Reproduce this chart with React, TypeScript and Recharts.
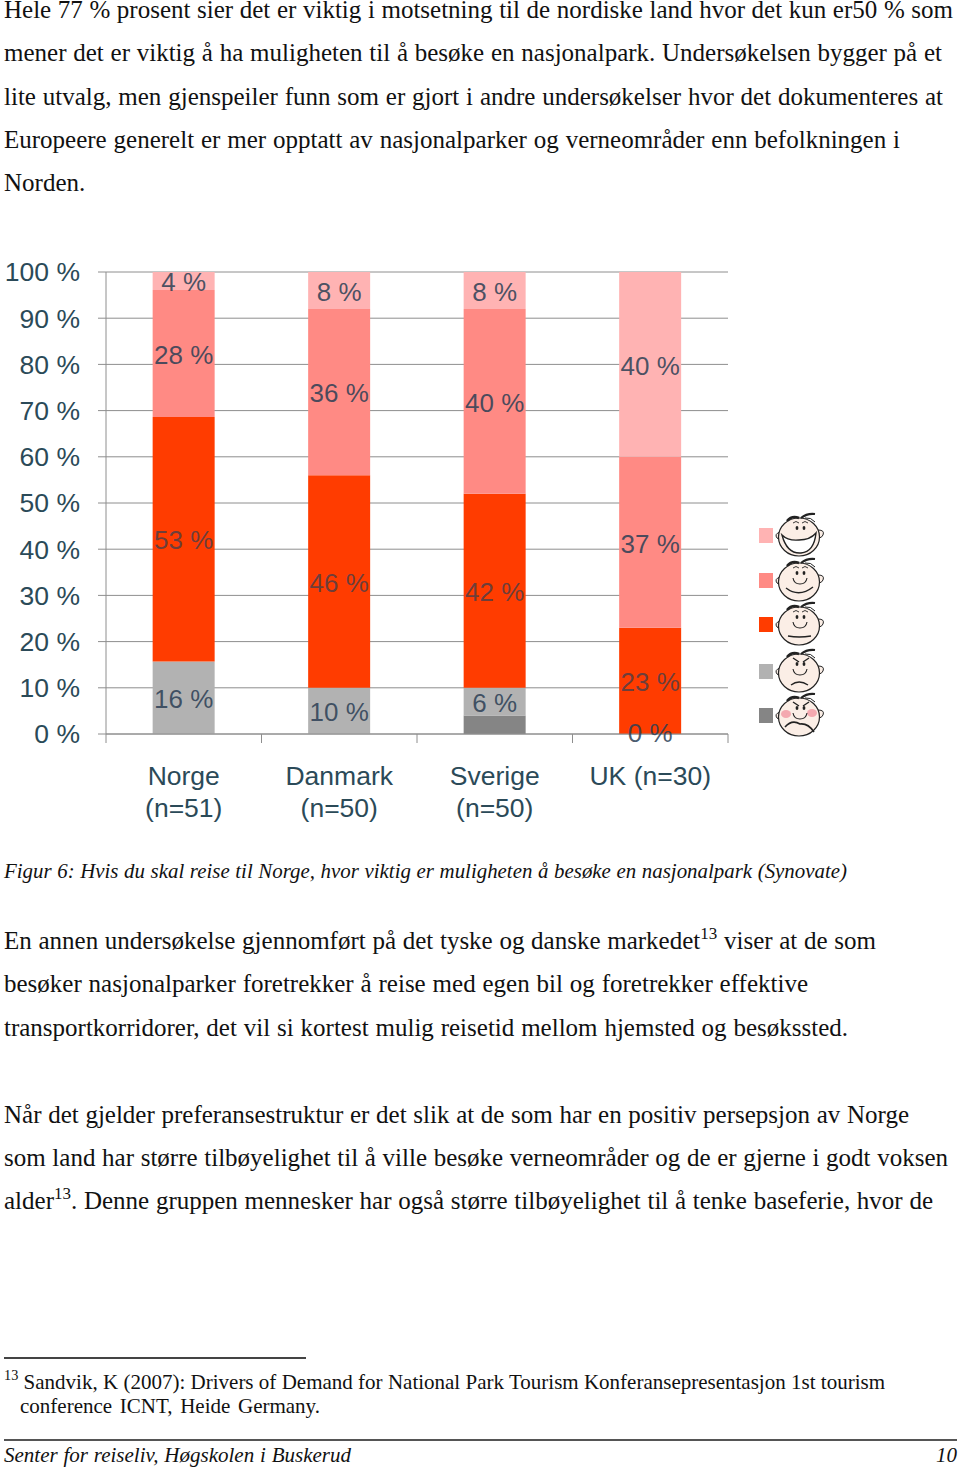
import { BarChart, Bar, XAxis, YAxis, CartesianGrid, Legend, LabelList } from "recharts";

const COUNTRIES = ["Norge\n(n=51)", "Danmark\n(n=50)", "Sverige\n(n=50)", "UK (n=30)"];
const VERY_LOW = [0, 0, 4, 0];
const LOW = [15.7, 10, 6, 0];
const MIDDLE = [52.9, 46, 42, 23];
const HIGH = [27.5, 36, 40, 37];
const VERY_HIGH = [3.9, 8, 8, 40];
const Y_TICKS = [0, 0.1, 0.2, 0.3, 0.4, 0.5, 0.6, 0.7, 0.8, 0.9, 1];

const COLORS = {
  veryLow: "#858585",
  low: "#b2b2b2",
  middle: "#ff3c00",
  high: "#ff8a84",
  veryHigh: "#ffb3b3",
};

const TEXT_COLOR = "#2b4a58";
const LABEL_COLOR = "#2c3f55";
const AXIS_COLOR = "#8e8e8e";
const PLOT_WIDTH = 622;
const BAND = PLOT_WIDTH / COUNTRIES.length;

const data = COUNTRIES.map((country, i) => ({
  country,
  veryLow: VERY_LOW[i],
  low: LOW[i],
  middle: MIDDLE[i],
  high: HIGH[i],
  veryHigh: VERY_HIGH[i],
}));

function CountryTick({ x, y, index, payload }: any) {
  const lines = String(payload.value).split("\n");
  const axisY = y - 8;
  return (
    <g>
      <line x1={x - BAND / 2} x2={x - BAND / 2} y1={axisY} y2={axisY + 9} stroke={AXIS_COLOR} />
      {index === COUNTRIES.length - 1 && (
        <line x1={x + BAND / 2} x2={x + BAND / 2} y1={axisY} y2={axisY + 9} stroke={AXIS_COLOR} />
      )}
      {lines.map((line: string, i: number) => (
        <text key={line} x={x} y={axisY + 51 + i * 32} textAnchor="middle" fontSize={26.5} fill={TEXT_COLOR}>
          {line}
        </text>
      ))}
    </g>
  );
}

// no wrapping here, the bars are only just wide enough for the text
function PercentLabel({ x, y, width, height, value, opacity = 0.85 }: any) {
  return (
    <text
      x={x + width / 2}
      y={y + height / 2 + 1}
      dy="0.355em"
      textAnchor="middle"
      fontSize={26}
      fill={LABEL_COLOR}
      fillOpacity={opacity}
    >
      {`${Math.round(value)} %`}
    </text>
  );
}

// a zero bar has no rectangle to hang a label on, so it sits on the base of the bar above it
function ZeroLabel({ x, y, width, height, value }: any) {
  if (value !== 0) return null;
  return (
    <text x={x + width / 2} y={y + height - 1} dy="0.355em" textAnchor="middle" fontSize={26} fill={LABEL_COLOR} fillOpacity={0.85}>
      0 %
    </text>
  );
}

const MOUTHS: Record<string, React.ReactNode> = {
  veryHigh: (
    <path d="M9 25 Q15 31 26 30 Q37 30 43 23 Q41 42 28 43 Q14 44 9 25Z" fill="#fff" stroke="#222" strokeWidth={1.4} />
  ),
  high: <path d="M13 33 Q26 43 40 32" fill="none" stroke="#222" strokeWidth={1.4} />,
  middle: <path d="M15 37 Q26 39 38 37" fill="none" stroke="#222" strokeWidth={1.4} />,
  low: <path d="M18 39 Q26 33 35 39" fill="none" stroke="#222" strokeWidth={1.4} />,
  veryLow: <path d="M12 37 Q19 29 27 34 Q35 33 41 42" fill="none" stroke="#222" strokeWidth={1.6} />,
};

function Face({ mood }: { mood: string }) {
  const cross = mood === "low" || mood === "veryLow";
  return (
    <svg width={54} height={50} viewBox="0 0 54 50">
      <path d="M7 22 Q1 24 4 28 Q6 30 8 29" fill="#fbeee6" stroke="#222" strokeWidth={1} />
      <path d="M45 20 Q52 20 50 25 Q49 28 45 28" fill="#fbeee6" stroke="#222" strokeWidth={1} />
      <ellipse cx={26} cy={27} rx={20.5} ry={19} fill="#fbeee6" stroke="#222" strokeWidth={1.2} />
      {mood === "veryLow" && (
        <g fill="#f4a9b0">
          <ellipse cx={13} cy={24} rx={5} ry={4} />
          <ellipse cx={39} cy={23} rx={5} ry={4} />
        </g>
      )}
      <path d="M14 11 Q19 5 26 8" fill="none" stroke="#222" strokeWidth={2.6} />
      <path d="M28 8 Q34 3 42 4" fill="none" stroke="#222" strokeWidth={2.2} />
      <path d="M32 8 Q38 7 42 12" fill="none" stroke="#222" strokeWidth={1} />
      {cross ? (
        <path d="M20 12 L26 16 M36 12 L30 16" fill="none" stroke="#222" strokeWidth={1.4} />
      ) : (
        <path d="M20 13 Q23 10 26 13 M29 13 Q32 10 35 13" fill="none" stroke="#222" strokeWidth={0.9} />
      )}
      <ellipse cx={24} cy={18} rx={1.4} ry={2} fill="#222" />
      <ellipse cx={31} cy={18} rx={1.4} ry={2} fill="#222" />
      {mood !== "veryHigh" && <path d="M20 23 Q21 29 27 29 Q33 29 34 23" fill="none" stroke="#222" strokeWidth={1.1} />}
      {MOUTHS[mood]}
    </svg>
  );
}

const LEGEND_ROWS = [535, 580, 624, 671, 715];

function FaceLegend({ payload }: any) {
  const rows = [...(payload ?? [])].reverse();
  return (
    <div style={{ position: "relative", width: 90, height: 240 }}>
      {rows.map((entry: any, i: number) => (
        <div
          key={entry.dataKey}
          style={{ position: "absolute", left: 0, top: LEGEND_ROWS[i] - 25 - 510, display: "flex", alignItems: "center" }}
        >
          <div style={{ width: 14, height: 15, background: entry.color, marginLeft: 9 }} />
          <Face mood={entry.dataKey} />
        </div>
      ))}
    </div>
  );
}

function StackedChart() {
  return (
    <BarChart
      width={960}
      height={590}
      data={data}
      stackOffset="expand"
      barCategoryGap="30%"
      margin={{ top: 22, right: 232, bottom: 0, left: 0 }}
    >
      <CartesianGrid vertical={false} stroke={AXIS_COLOR} />
      <XAxis
        dataKey="country"
        height={106}
        interval={0}
        axisLine={{ stroke: AXIS_COLOR }}
        tickLine={false}
        tick={<CountryTick />}
      />
      <YAxis
        width={106}
        domain={[0, 1]}
        ticks={Y_TICKS}
        interval={0}
        axisLine={{ stroke: AXIS_COLOR }}
        tickLine={{ stroke: AXIS_COLOR }}
        tickSize={8}
        tickMargin={18}
        tick={{ fill: TEXT_COLOR, fontSize: 26.5 }}
        tickFormatter={(v: number) => `${Math.round(v * 100)} %`}
      />
      <Legend
        layout="horizontal"
        verticalAlign="middle"
        itemSorter={null}
        content={<FaceLegend />}
        wrapperStyle={{ left: 750, top: 260, width: 90, height: 240 }}
      />
      <Bar dataKey="veryLow" stackId="a" fill={COLORS.veryLow} isAnimationActive={false} />
      <Bar dataKey="low" stackId="a" fill={COLORS.low} isAnimationActive={false}>
        <LabelList dataKey="low" content={<PercentLabel />} />
      </Bar>
      <Bar dataKey="middle" stackId="a" fill={COLORS.middle} isAnimationActive={false}>
        <LabelList dataKey="middle" content={<PercentLabel opacity={0.7} />} />
        <LabelList dataKey="low" content={<ZeroLabel />} />
      </Bar>
      <Bar dataKey="high" stackId="a" fill={COLORS.high} isAnimationActive={false}>
        <LabelList dataKey="high" content={<PercentLabel />} />
      </Bar>
      <Bar dataKey="veryHigh" stackId="a" fill={COLORS.veryHigh} isAnimationActive={false}>
        <LabelList dataKey="veryHigh" content={<PercentLabel />} />
      </Bar>
    </BarChart>
  );
}

function Line({ y, x = 4, end, size = 25, italic, children }: any) {
  return (
    <div
      style={{
        position: "absolute",
        left: x,
        top: y - 20,
        width: end - x,
        height: 40,
        lineHeight: "40px",
        fontSize: size,
        fontStyle: italic ? "italic" : "normal",
        textAlign: "justify",
        textAlignLast: "justify",
        whiteSpace: "nowrap",
        color: "#111",
      }}
    >
      {children}
    </div>
  );
}

const Sup = ({ children }: any) => (
  <sup style={{ fontSize: "0.68em", lineHeight: 0, verticalAlign: "0.6em" }}>{children}</sup>
);

export default function App() {
  return (
    <div
      style={{
        position: "absolute",
        left: 0,
        top: 0,
        width: 960,
        height: 1467,
        overflow: "hidden",
        background: "#fff",
        fontFamily: "'Liberation Serif', serif",
      }}
    >
      <Line y={10} end={953}>Hele 77 % prosent sier det er viktig i motsetning til de nordiske land hvor det kun er50 % som</Line>
      <Line y={53} end={942}>mener det er viktig å ha muligheten til å besøke en nasjonalpark. Undersøkelsen bygger på et</Line>
      <Line y={97} end={943}>lite utvalg, men gjenspeiler funn som er gjort i andre undersøkelser hvor det dokumenteres at</Line>
      <Line y={140} end={900}>Europeere generelt er mer opptatt av nasjonalparker og verneområder enn befolkningen i</Line>
      <Line y={183} end={86}>Norden.</Line>

      <div style={{ position: "absolute", left: 0, top: 250, fontFamily: "'Liberation Sans', sans-serif" }}>
        <StackedChart />
      </div>

      <Line y={871} end={847} size={20.9} italic>
        Figur 6: Hvis du skal reise til Norge, hvor viktig er muligheten å besøke en nasjonalpark (Synovate)
      </Line>

      <Line y={941} end={876}>En annen undersøkelse gjennomført på det tyske og danske markedet<Sup>13</Sup> viser at de som</Line>
      <Line y={984} end={808}>besøker nasjonalparker foretrekker å reise med egen bil og foretrekker effektive</Line>
      <Line y={1028} end={848}>transportkorridorer, det vil si kortest mulig reisetid mellom hjemsted og besøkssted.</Line>

      <Line y={1115} end={909}>Når det gjelder preferansestruktur er det slik at de som har en positiv persepsjon av Norge</Line>
      <Line y={1158} end={948}>som land har større tilbøyelighet til å ville besøke verneområder og de er gjerne i godt voksen</Line>
      <Line y={1201} end={933}>alder<Sup>13</Sup>. Denne gruppen mennesker har også større tilbøyelighet til å tenke baseferie, hvor de</Line>

      <div style={{ position: "absolute", left: 4, top: 1357, width: 302, height: 2, background: "#444" }} />
      <Line y={1382} end={885} size={21}><Sup>13</Sup> Sandvik, K (2007): Drivers of Demand for National Park Tourism Konferansepresentasjon 1st tourism</Line>
      <Line y={1406} x={20} end={320} size={21}>conference ICNT, Heide  Germany.</Line>

      <div style={{ position: "absolute", left: 4, top: 1439, width: 953, height: 2, background: "#555" }} />
      <Line y={1455} end={351} size={21} italic>Senter for reiseliv, Høgskolen i Buskerud</Line>
      <Line y={1455} x={936} end={957} size={21} italic>10</Line>
    </div>
  );
}
